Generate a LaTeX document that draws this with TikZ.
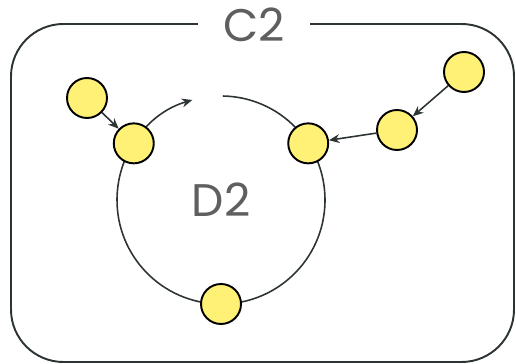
\documentclass[tikz,border=0pt]{standalone}
\usepackage{fontspec}
\setmainfont{Poppins}
\usetikzlibrary{arrows.meta}
\definecolor{linecolor}{HTML}{2D3436}
\definecolor{labelcolor}{HTML}{5F5F5F}
\definecolor{nodefill}{HTML}{FFF176}
\begin{document}
\begin{tikzpicture}[
  x=0.02cm, y=0.02cm,
  >={Stealth[length=6pt,width=5pt]},
  ball/.style={circle, draw=black, line width=1.1pt, fill=nodefill, minimum size=0.8cm, inner sep=0pt},
  arr/.style={->, draw=linecolor, line width=0.9pt},
  lbl/.style={text=labelcolor, font=\fontsize{26}{30}\selectfont, inner sep=0pt}
]
  \useasboundingbox (0,0) rectangle (516,364);
  \draw[linecolor, line width=1.1pt, rounded corners=1.05cm] (11,2) rectangle (514,340);
  \node[lbl, fill=white, inner xsep=0.5cm, inner ysep=2pt] (c2) at (254,339) {C2};
  \node[lbl] (d2) at (221,164) {D2};
  \draw[arr] ([shift={(89:104)}]d2.center) arc[start angle=89, end angle=-254, radius=104];
  \node[ball] (l) at ([shift={(147:104)}]d2.center) {};
  \node[ball] (r) at ([shift={(33:104)}]d2.center) {};
  \node[ball] (bot) at ([shift={(270:104)}]d2.center) {};
  \node[ball] (a) at (87,266) {};
  \node[ball] (b) at (397,234) {};
  \node[ball] (c) at (464,292) {};
  \draw[arr] (a) -- (l);
  \draw[arr] (c) -- (b);
  \draw[arr] (b) -- (r);
\end{tikzpicture}
\end{document}
